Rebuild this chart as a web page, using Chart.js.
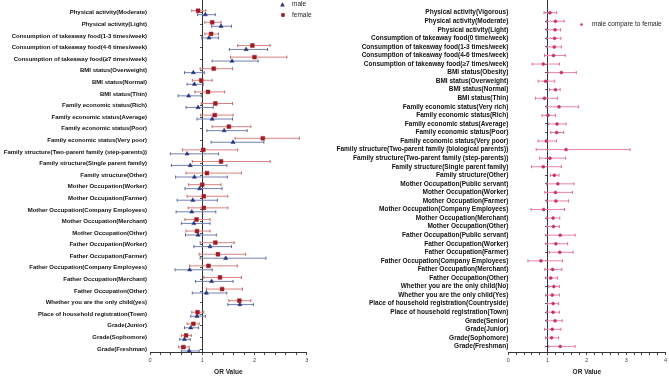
<!DOCTYPE html>
<html><head><meta charset="utf-8">
<script src="https://cdn.jsdelivr.net/npm/chart.js@4.4.1/dist/chart.umd.min.js"></script>
<style>
html,body{margin:0;padding:0;background:#fff;width:669px;height:377px;overflow:hidden;position:relative;font-family:'Liberation Sans',Arial,sans-serif;}
#wl{position:absolute;left:0;top:0;width:335px;height:377px;}
#wr{position:absolute;left:331px;top:0;width:338px;height:377px;}
.lg{position:absolute;font-size:6.5px;color:#222;line-height:8px;white-space:nowrap;}
.mk{position:absolute;display:block;}
</style></head><body>
<div id="wl"><canvas id="cl" width="335" height="377"></canvas></div>
<div id="wr"><canvas id="cr" width="338" height="377"></canvas></div>
<svg class="mk" style="left:280px;top:1.5px" width="5" height="5"><polygon points="2.5,0.3 4.8,4.6 0.2,4.6" fill="#27337a"/></svg>
<div class="lg" style="left:292px;top:0px">male</div>
<svg class="mk" style="left:281px;top:13.2px" width="4" height="4"><rect x="0.2" y="0.2" width="3.6" height="3.6" fill="#9e1c24"/></svg>
<div class="lg" style="left:292px;top:11px">female</div>
<svg class="mk" style="left:579.5px;top:22.5px" width="3" height="3"><circle cx="1.5" cy="1.5" r="1.3" fill="#cc2f6a"/></svg>
<div class="lg" style="left:592px;top:20px">male compare to female</div>
<script>
// ---------- Left panel: male / female ----------
const catsL = [
"Physical activity(Moderate)",
"Physical activity(Light)",
"Consumption of takeaway food(1-3 times/week)",
"Consumption of takeaway food(4-6 times/week)",
"Consumption of takeaway food(≥7 times/week)",
"BMI status(Overweight)",
"BMI status(Normal)",
"BMI status(Thin)",
"Family economic status(Rich)",
"Family economic status(Average)",
"Family economic status(Poor)",
"Family economic status(Very poor)",
"Family structure(Two-parent family (step-parents))",
"Family structure(Single parent family)",
"Family structure(Other)",
"Mother Occupation(Worker)",
"Mother Occupation(Farmer)",
"Mother Occupation(Company Employees)",
"Mother Occupation(Merchant)",
"Mother Occupation(Other)",
"Father Occupation(Worker)",
"Father Occupation(Farmer)",
"Father Occupation(Company Employees)",
"Father Occupation(Merchant)",
"Father Occupation(Other)",
"Whether you are the only child(yes)",
"Place of household registration(Town)",
"Grade(Junior)",
"Grade(Sophomore)",
"Grade(Freshman)"
];
const femaleOR = [0.92,1.19,1.17,1.96,2.00,1.22,0.98,1.11,1.25,1.24,1.51,2.16,1.02,1.36,1.09,1.00,1.03,1.03,0.89,0.90,1.25,1.30,1.12,1.34,1.38,1.71,0.91,0.83,0.69,0.64];
const femaleLo = [0.80,1.05,1.05,1.68,1.54,0.96,0.81,0.86,0.98,0.97,1.19,1.63,0.62,0.81,0.69,0.74,0.71,0.73,0.67,0.69,0.96,0.94,0.76,1.03,1.08,1.51,0.80,0.71,0.60,0.55];
const femaleHi = [1.07,1.36,1.31,2.30,2.62,1.58,1.19,1.43,1.58,1.59,1.93,2.86,1.68,2.30,1.75,1.36,1.49,1.49,1.15,1.15,1.61,1.83,1.67,1.75,1.77,1.93,1.03,0.94,0.79,0.75];
const maleOR   = [1.06,1.36,1.13,1.84,1.57,0.83,0.85,0.74,0.92,1.19,1.42,1.59,0.71,0.77,0.85,0.95,0.82,0.80,0.84,0.92,1.15,1.45,0.76,1.18,1.08,1.72,0.90,0.78,0.66,0.75];
const maleLo   = [0.91,1.18,0.99,1.52,1.19,0.66,0.71,0.54,0.69,0.90,1.09,1.17,0.39,0.41,0.49,0.67,0.52,0.50,0.60,0.68,0.84,0.96,0.48,0.87,0.81,1.49,0.78,0.66,0.57,0.60];
const maleHi   = [1.25,1.56,1.31,2.25,2.07,1.04,1.02,0.98,1.21,1.58,1.86,2.18,1.31,1.47,1.48,1.38,1.29,1.26,1.15,1.27,1.56,2.22,1.19,1.59,1.47,1.98,1.06,0.93,0.77,0.94];
const xTicksL  = [0,1,2,3];

// ---------- Right panel: male compare to female ----------
const catsR = [
"Physical activity(Vigorous)",
"Physical activity(Moderate)",
"Physical activity(Light)",
"Consumption of takeaway food(0 time/week)",
"Consumption of takeaway food(1-3 times/week)",
"Consumption of takeaway food(4-6 times/week)",
"Consumption of takeaway food(≥7 times/week)",
"BMI status(Obesity)",
"BMI status(Overweight)",
"BMI status(Normal)",
"BMI status(Thin)",
"Family economic status(Very rich)",
"Family economic status(Rich)",
"Family economic status(Average)",
"Family economic status(Poor)",
"Family economic status(Very poor)",
"Family structure(Two-parent family (biological parents))",
"Family structure(Two-parent family (step-parents))",
"Family structure(Single parent family)",
"Family structure(Other)",
"Mother Occupation(Public servant)",
"Mother Occupation(Worker)",
"Mother Occupation(Farmer)",
"Mother Occupation(Company Employees)",
"Mother Occupation(Merchant)",
"Mother Occupation(Other)",
"Father Occupation(Public servant)",
"Father Occupation(Worker)",
"Father Occupation(Farmer)",
"Father Occupation(Company Employees)",
"Father Occupation(Merchant)",
"Father Occupation(Other)",
"Whether you are the only child(No)",
"Whether you are the only child(Yes)",
"Place of household registration(Countryside)",
"Place of household registration(Town)",
"Grade(Senior)",
"Grade(Junior)",
"Grade(Sophomore)",
"Grade(Freshman)"
];
const cmpOR = [1.06,1.20,1.19,1.18,1.17,1.15,0.89,1.35,0.95,1.20,0.92,1.29,1.01,1.24,1.23,0.97,1.47,1.06,0.89,1.17,1.26,1.20,1.21,0.90,1.14,1.15,1.32,1.21,1.31,0.83,1.13,1.08,1.16,1.12,1.14,1.14,1.19,1.12,1.10,1.32];
const cmpLo = [0.91,0.97,0.97,0.97,0.98,0.92,0.61,1.01,0.76,1.05,0.69,0.97,0.86,1.03,1.08,0.76,0.71,0.80,0.59,1.07,0.97,0.93,0.97,0.58,0.97,0.99,0.96,0.95,1.04,0.50,0.93,0.95,1.03,0.95,1.00,0.97,0.97,0.92,0.95,1.03];
const cmpHi = [1.23,1.42,1.33,1.34,1.35,1.45,1.30,1.73,1.18,1.32,1.25,1.79,1.20,1.47,1.41,1.23,3.10,1.46,1.35,1.29,1.67,1.63,1.53,1.43,1.31,1.30,1.70,1.51,1.65,1.38,1.36,1.25,1.30,1.30,1.28,1.30,1.37,1.34,1.28,1.70];
const xTicksR = [0,1,2,3,4];

Chart.defaults.font.family = "'Liberation Sans', Arial, sans-serif";
Chart.defaults.animation = false;

function pts(vals, off){ return vals.map((v,i)=>({x:v, y:i+off})); }
function ciPts(lo, hi, off){
  const out = [];
  lo.forEach((l,i)=>{ out.push({x:l, y:i+off}, {x:hi[i], y:i+off}, {x:null, y:null}); });
  return out;
}
function makeScales(cats, xTicks, yMin, yMax, yWidth, yPad, yFont){
  const xMax = xTicks[xTicks.length-1];
  return {
    x: {type:'linear', min:xTicks[0], max:xMax, position:'bottom',
      afterFit: s=>{ s.height = 25; },
      border:{display:true, color:'#333', width:1},
      grid:{display:true, drawOnChartArea:false, drawTicks:true, tickLength:3, tickColor:'#444', tickWidth:1},
      ticks:{stepSize:0.2, autoSkip:false, maxRotation:0, padding:2, color:'#444', font:{size:5.5},
        callback: v => { const r = Math.round(v*1000)/1000; return xTicks.includes(r) ? String(r) : ''; }},
      title:{display:true, text:'OR Value', color:'#222', font:{size:6.5, weight:'bold'}, padding:{top:0, bottom:1}}
    },
    y: {type:'linear', reverse:true, min:yMin, max:yMax, position:'left',
      afterFit: s=>{ s.width = yWidth; s.paddingTop = 0; s.paddingBottom = 0; },
      border:{display:false}, grid:{display:false, drawTicks:false},
      ticks:{stepSize:1, includeBounds:false, autoSkip:false, padding:yPad, color:'#111', font:{size:yFont, weight:'bold'},
        callback: v => (cats[v] !== undefined ? cats[v] : '')}
    },
    y2: {type:'linear', reverse:true, min:yMin, max:yMax, position:{x:1},
      afterFit: s=>{ s.paddingTop = 0; s.paddingBottom = 0; },
      border:{display:true, color:'#333', width:1},
      grid:{display:true, drawOnChartArea:false, drawTicks:true, tickLength:2,
        tickColor: c => (c.tick && c.tick.value >= 0 && c.tick.value < cats.length) ? '#555' : 'rgba(0,0,0,0)'},
      ticks:{display:false, stepSize:1, includeBounds:false, autoSkip:false}
    }
  };
}
const OFF = 0.17;
const commonPlugins = {legend:{display:false}, tooltip:{enabled:false}};

new Chart(document.getElementById('cl'), {
  type:'scatter',
  data:{datasets:[
    {label:'female', data:pts(femaleOR,-OFF), pointStyle:'rect', pointRadius:2.7, pointBackgroundColor:'#9e1c24', pointBorderColor:'#9e1c24', pointBorderWidth:0.5},
    {label:'male', data:pts(maleOR,OFF), pointStyle:'triangle', pointRadius:2.4, pointBackgroundColor:'#27337a', pointBorderColor:'#27337a', pointBorderWidth:0.5},
    {label:'female 95% CI', data:ciPts(femaleLo,femaleHi,-OFF), showLine:true, spanGaps:false, borderColor:'#dc8282', borderWidth:1,
      pointStyle:'line', pointRotation:90, pointRadius:1.5, pointBorderColor:'#b07070', pointBorderWidth:1},
    {label:'male 95% CI', data:ciPts(maleLo,maleHi,OFF), showLine:true, spanGaps:false, borderColor:'#7482b6', borderWidth:1,
      pointStyle:'line', pointRotation:90, pointRadius:1.5, pointBorderColor:'#606a98', pointBorderWidth:1}
  ]},
  options:{responsive:false, events:[], layout:{autoPadding:false, padding:{top:0, right:28.3, bottom:0, left:0}},
    scales: makeScales(catsL, xTicksL, -1.095, 29.258, 150, 3, 6),
    plugins: commonPlugins}
});

new Chart(document.getElementById('cr'), {
  type:'scatter',
  data:{datasets:[
    {label:'male compare to female', data:pts(cmpOR,0), pointStyle:'circle', pointRadius:1.5, pointBackgroundColor:'#cc2f6a', pointBorderColor:'#cc2f6a', pointBorderWidth:0.5},
    {label:'95% CI', data:ciPts(cmpLo,cmpHi,0), showLine:true, spanGaps:false, borderColor:'#e883ab', borderWidth:1,
      pointStyle:'line', pointRotation:90, pointRadius:1.5, pointBorderColor:'#d36a96', pointBorderWidth:1}
  ]},
  options:{responsive:false, events:[], layout:{autoPadding:false, padding:{top:0, right:3.3, bottom:0, left:0}},
    scales: makeScales(catsR, xTicksR, -1.483, 39.654, 177.3, 0, 6.5),
    plugins: commonPlugins}
});
</script>
</body></html>
